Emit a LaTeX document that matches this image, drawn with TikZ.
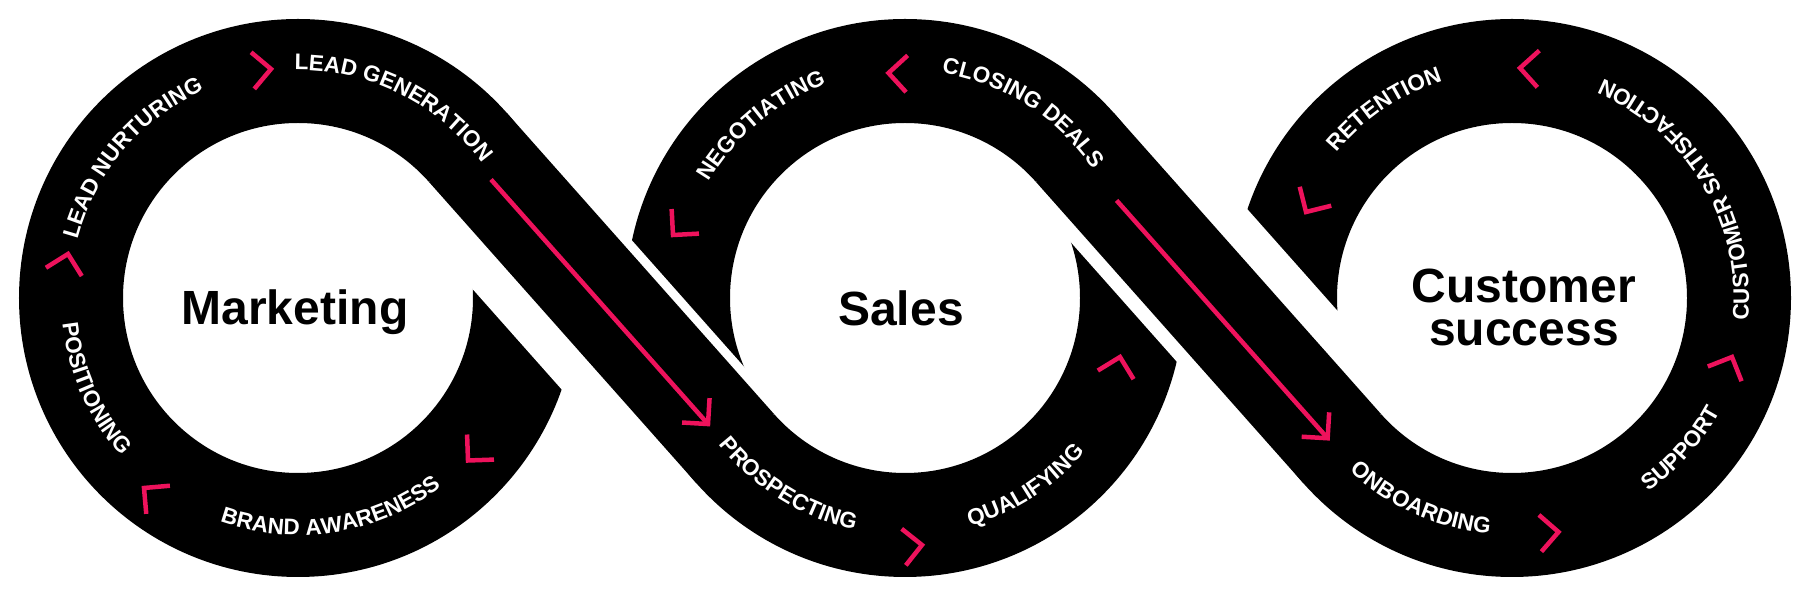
\documentclass[tikz,border=0pt]{standalone}
\usepackage{fontspec}
\setmainfont{Liberation Sans}
\usetikzlibrary{calc,decorations.text}
\definecolor{brandpink}{RGB}{238,18,92}
\newcommand{\arclblfont}{\bfseries\fontsize{22.5}{22.5}\selectfont}
% top-type label: reads clockwise, letter tops outward
\newcommand{\arcTop}[4]{\path[decorate,decoration={text along path,text={|\arclblfont|#4},text align=center,text color=white}] ($(#1)+(#2+60:228)$) arc[start angle=#2+60,end angle=#2-60,radius=228];}
% bottom-type label: reads counter-clockwise, letter tops inward
\newcommand{\arcBot}[4]{\path[decorate,decoration={text along path,text={|\arclblfont|#4},text align=center,text color=white}] ($(#1)+(#2-60:237)$) arc[start angle=#2-60,end angle=#2+60,radius=237];}
\newcommand{\pinkchev}[2]{\draw[chevstyle] ($(#1)+(#2+135:26)$) -- (#1) -- ($(#1)+(#2-135:26)$);}
% white gap strip along a crossing strand: M, t1, t2, d1, d2
\newcommand{\gapstrip}[5]{\fill[white] ($(#1)+(-48.414:#2)+(41.586:#4)$) -- ($(#1)+(-48.414:#3)+(41.586:#4)$) -- ($(#1)+(-48.414:#3)+(41.586:#5)$) -- ($(#1)+(-48.414:#2)+(41.586:#5)$) -- cycle;}
\begin{document}
\begin{tikzpicture}[x=1pt,y=1pt,
  band/.style={line width=104pt,draw=black,line cap=butt},
  pinkline/.style={draw=brandpink,line width=4.5pt,line cap=butt},
  chevstyle/.style={draw=brandpink,line width=4.5pt,line cap=butt,miter limit=10},
  bigtitle/.style={font=\fontsize{48}{43}\selectfont\bfseries,text=black,align=center,inner sep=0pt}]
\useasboundingbox (0,0) rectangle (1808,596);
\fill[white] (0,0) rectangle (1808,596);
% centres
\coordinate (C1) at (298,298);
\coordinate (C2) at (905,298);
\coordinate (C3) at (1512,298);
\coordinate (MA) at (601.5,298);
\coordinate (MC) at (1208.5,298);
\coordinate (T1) at ($(C1)+(41.586:227)$);
\coordinate (T2) at ($(C2)+(221.586:227)$);
\coordinate (T3) at ($(C2)+(41.586:227)$);
\coordinate (T4) at ($(C3)+(221.586:227)$);
% rings
\draw[band] (C1) circle[radius=227];
\draw[band] (C2) circle[radius=227];
\draw[band] (C3) circle[radius=227];
% gaps
\gapstrip{MA}{-201.5}{60}{-90.5}{-51}
\gapstrip{MA}{-60}{201.5}{51}{61}
\gapstrip{MC}{-201.5}{40}{-66}{-51}
\gapstrip{MC}{-50}{201.5}{51}{88}
% crossing strands
\draw[band] (T1) -- (T2);
\draw[band] (T3) -- (T4);
% pink arrows
\coordinate (a1s) at ($(MA)+(-48.414:-162)+(41.586:-4)$);
\coordinate (a1e) at ($(MA)+(-48.414:165)+(41.586:-4)$);
\coordinate (a2s) at ($(MC)+(-48.414:-134)+(41.586:-4)$);
\coordinate (a2e) at ($(MC)+(-48.414:184)+(41.586:-4)$);
\draw[pinkline] (a1s) -- (a1e);
\draw[chevstyle] ($(a1e)+(176.586:26)$) -- (a1e) -- ($(a1e)+(86.586:26)$);
\draw[pinkline] (a2s) -- (a2e);
\draw[chevstyle] ($(a2e)+(176.586:26)$) -- (a2e) -- ($(a2e)+(86.586:26)$);
% chevrons
\coordinate (ch1) at (271,527);
\coordinate (ch2) at (68,342);
\coordinate (ch3) at (144,108);
\coordinate (ch4) at (468,135.5);
\coordinate (ch5) at (888.5,523);
\coordinate (ch6) at (673,361);
\coordinate (ch7) at (1120,239);
\coordinate (ch8) at (922,51);
\coordinate (ch9) at (1520,528);
\coordinate (ch10) at (1306,384);
\coordinate (ch11) at (1732,239);
\coordinate (ch12) at (1558.5,64);
\pinkchev{ch1}{5}
\pinkchev{ch2}{77}
\pinkchev{ch3}{140}
\pinkchev{ch4}{227}
\pinkchev{ch5}{177.5}
\pinkchev{ch6}{228}
\pinkchev{ch7}{76.5}
\pinkchev{ch8}{6.5}
\pinkchev{ch9}{177}
\pinkchev{ch10}{239}
\pinkchev{ch11}{66.5}
\pinkchev{ch12}{4}
% ring labels
\arcTop{C1}{63.5}{}{LEAD GENERATION}
\arcTop{C1}{139.8}{}{LEAD NURTURING}
\arcBot{C1}{204}{}{POSITIONING}
\arcBot{C1}{279}{}{BRAND AWARENESS}
\arcTop{C2}{129.8}{}{NEGOTIATING}
\arcTop{C2}{57.5}{}{CLOSING DEALS}
\arcBot{C2}{238}{}{PROSPECTING}
\arcBot{C2}{302.7}{}{QUALIFYING}
\arcTop{C3}{124}{}{RETENTION}
\arcBot{C3}{31}{}{CUSTOMER SATISFACTION}
\arcBot{C3}{318.3}{}{SUPPORT}
\arcBot{C3}{245.7}{}{ONBOARDING}
% titles
\node[bigtitle,anchor=base] (mkt) at (295,271) {Marketing};
\node[bigtitle,anchor=base] (sales) at (901,270) {Sales};
\node[bigtitle] (cs) at (1524,289) {Customer\\success};
\end{tikzpicture}
\end{document}
